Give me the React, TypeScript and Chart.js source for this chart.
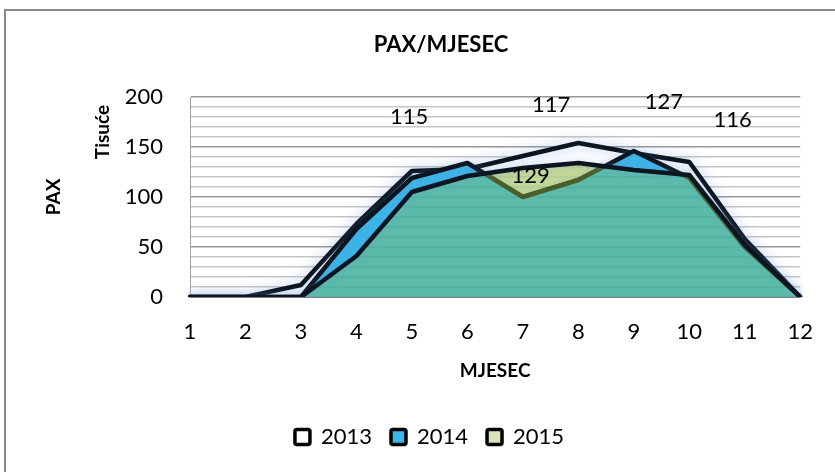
import React, { useEffect, useRef } from 'react';
import { Chart, registerables } from 'chart.js';

Chart.register(...registerables);

// ---- data ----
const months = ['1', '2', '3', '4', '5', '6', '7', '8', '9', '10', '11', '12'];
const seriesNames = ['2013', '2014', '2015'];
const pax2013 = [0, 0, 12, 73, 126, 128, 141, 154, 144, 135, 58, 0];
const pax2014 = [0, 0, 0, 68, 119, 134, 100, 117, 146, 119, 50, 0];
const pax2015 = [0, 0, 0, 41, 105, 121, 129, 134, 127, 122, 52, 0];
const yTickValues = [0, 50, 100, 150, 200];
const minorGridValues = [10, 20, 30, 40, 60, 70, 80, 90, 110, 120, 130, 140, 160, 170, 180, 190];
const noteTexts = ['115', '117', '127', '116', '129'];
// where each note sits: month number and PAX value (thousands)
const noteMonths = [4.95, 7.51, 9.54, 10.78, 7.14];
const noteValues = [180, 192, 195, 177, 121];

const FONT = 'Lato, "Open Sans", sans-serif';
const LINE = '#0c1620';
const TEAL = '#5bbbab';
const OLIVE = '#4b5f2c';
const PAD_L = 42;
const PAD_B = 14;
const AREA_TOP = 97;
const AREA_BOTTOM = 297;
const AREA_LEFT = 190;
const LEGEND_SHIFT = 7;

function areaPath(ctx: CanvasRenderingContext2D, pts: any[], base: number) {
  ctx.beginPath();
  ctx.moveTo(pts[0].x, base);
  pts.forEach((p) => ctx.lineTo(p.x, p.y));
  ctx.lineTo(pts[pts.length - 1].x, base);
  ctx.closePath();
}

const effectsPlugin = {
  id: 'effects',
  afterLayout(chart: any) {
    if (chart.legend) {
      chart.legend.left += LEGEND_SHIFT;
      chart.legend.right += LEGEND_SHIFT;
    }
  },
  beforeDatasetDraw(chart: any, args: any) {
    const { ctx, scales } = chart;
    const base = scales.y.getPixelForValue(0);
    if (args.index === 2) {
      const p1 = chart.getDatasetMeta(1).data;
      const p2 = chart.getDatasetMeta(2).data;
      // overlap of 2014 and 2015 areas
      ctx.save();
      areaPath(ctx, p1, base);
      ctx.clip();
      areaPath(ctx, p2, base);
      ctx.fillStyle = TEAL;
      ctx.fill();
      ctx.restore();
      // 2014 outline seen through the 2015 area
      ctx.save();
      areaPath(ctx, p2, base);
      ctx.clip();
      ctx.beginPath();
      p1.forEach((p: any, i: number) => (i ? ctx.lineTo(p.x, p.y) : ctx.moveTo(p.x, p.y)));
      ctx.strokeStyle = OLIVE;
      ctx.lineWidth = 4.5;
      ctx.lineJoin = 'round';
      ctx.stroke();
      // faint grid stripes seen through the fills
      ctx.strokeStyle = 'rgba(0,40,40,0.07)';
      ctx.lineWidth = 1.5;
      minorGridValues.concat(yTickValues).forEach((v) => {
        const yy = scales.y.getPixelForValue(v);
        ctx.beginPath();
        ctx.moveTo(chart.chartArea.left, yy);
        ctx.lineTo(chart.chartArea.right, yy);
        ctx.stroke();
      });
      ctx.restore();
    }
    ctx.save();
    ctx.shadowColor = args.index === 0 ? 'rgba(110,150,215,0.6)' : 'rgba(110,150,215,0.3)';
    ctx.shadowBlur = args.index === 0 ? 14 : 6;
  },
  afterDatasetDraw(chart: any) {
    chart.ctx.restore();
  },
  afterDatasetsDraw(chart: any) {
    const { ctx, scales } = chart;
    const x = scales.x;
    const y = scales.y;
    ctx.save();
    ctx.fillStyle = '#000';
    ctx.textAlign = 'center';
    ctx.textBaseline = 'middle';
    ctx.font = `bold 22px ${FONT}`;
    ctx.fillText('PAX/MJESEC', 441, 45);
    ctx.font = `22px ${FONT}`;
    noteTexts.forEach((t, i) => {
      ctx.fillText(t, x.getPixelForValue(noteMonths[i] - 1), y.getPixelForValue(noteValues[i]));
    });
    // secondary axis caption
    ctx.font = `bold 19px ${FONT}`;
    ctx.translate(chart.chartArea.left - 87, y.getPixelForValue(165));
    ctx.rotate(-Math.PI / 2);
    ctx.fillText('Tisuće', 0, 0);
    ctx.restore();
  },
};

export default function App() {
  const ref = useRef<HTMLCanvasElement | null>(null);

  useEffect(() => {
    if (!ref.current) return;
    const chart = new Chart(ref.current, {
      type: 'line',
      data: {
        labels: months,
        datasets: [
          {
            label: seriesNames[0],
            data: pax2013,
            backgroundColor: '#ffffff',
            borderColor: LINE,
            borderWidth: 4.5,
            fill: 'origin',
            order: 3,
          },
          {
            label: seriesNames[1],
            data: pax2014,
            backgroundColor: '#3cb5e8',
            borderColor: LINE,
            borderWidth: 4.5,
            fill: 'origin',
            order: 2,
          },
          {
            label: seriesNames[2],
            data: pax2015,
            backgroundColor: 'rgba(135,173,55,0.5)',
            borderColor: LINE,
            borderWidth: 4.5,
            fill: 'origin',
            order: 1,
          },
        ],
      },
      options: {
        responsive: false,
        animation: false,
        devicePixelRatio: 1,
        layout: { padding: { left: PAD_L, right: 32, top: AREA_TOP, bottom: PAD_B } },
        elements: {
          line: { tension: 0, borderJoinStyle: 'round', borderCapStyle: 'round' },
          point: { radius: 0, hoverRadius: 0 },
        },
        plugins: {
          title: { display: false },
          legend: {
            position: 'bottom',
            labels: {
              color: '#000',
              font: { family: FONT, size: 22 },
              boxWidth: 15,
              boxHeight: 15,
              padding: 19,
              useBorderRadius: true,
              borderRadius: 2,
              generateLabels: (chart: any) =>
                chart.data.datasets.map((d: any, i: number) => ({
                  text: d.label,
                  fillStyle: i === 2 ? '#d7e4bd' : d.backgroundColor,
                  strokeStyle: '#000',
                  lineWidth: 3.5,
                  fontColor: '#000',
                  hidden: false,
                  datasetIndex: i,
                  borderRadius: 2,
                })),
            },
          },
          tooltip: { enabled: false },
        },
        scales: {
          x: {
            grid: { display: false, drawTicks: false },
            border: { display: true, color: '#808080', width: 2 },
            ticks: { color: '#000', font: { family: FONT, size: 22 }, padding: 22, maxRotation: 0 },
            title: {
              display: true,
              text: 'MJESEC',
              color: '#000',
              font: { family: FONT, size: 19, weight: 'bold' },
              padding: { top: 0, bottom: 25 },
            },
            afterFit(s: any) {
              const lh = s.chart.legend ? s.chart.legend.height : 0;
              s.height = s.chart.height - AREA_BOTTOM - PAD_B - lh;
            },
          },
          y: {
            min: 0,
            max: 200,
            grid: {
              drawTicks: false,
              color: (c: any) => (yTickValues.includes(c.tick.value) ? '#989898' : '#c6c6c6'),
              lineWidth: 1.6,
            },
            border: { display: true, color: '#a6a6a6', width: 1 },
            ticks: {
              stepSize: 10,
              autoSkip: false,
              color: '#000',
              font: { family: FONT, size: 22 },
              padding: 27,
              callback: (v: any) => (yTickValues.includes(Number(v)) ? String(v) : ''),
            },
            title: {
              display: true,
              text: 'PAX',
              color: '#000',
              font: { family: FONT, size: 19, weight: 'bold' },
              padding: { top: 0, bottom: 0 },
            },
            afterFit(s: any) {
              s.width = AREA_LEFT - PAD_L;
            },
          },
        },
      },
      plugins: [effectsPlugin],
    });
    return () => chart.destroy();
  }, []);

  return (
    <div style={{ position: 'fixed', left: 0, top: 0, width: 835, height: 472, background: '#fff', overflow: 'hidden' }}>
      <div
        style={{
          position: 'absolute',
          left: 4,
          top: 9,
          width: 840,
          height: 480,
          borderLeft: '2px solid #8a8a8a',
          borderTop: '2px solid #8a8a8a',
          boxSizing: 'border-box',
        }}
      />
      <canvas ref={ref} width={835} height={472} style={{ position: 'absolute', left: 0, top: 0, display: 'block' }} />
    </div>
  );
}
